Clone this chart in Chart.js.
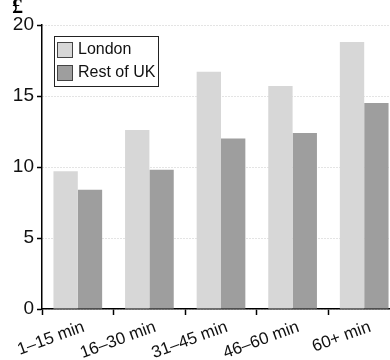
<!DOCTYPE html>
<html>
<head>
<meta charset="utf-8">
<script src="https://cdn.jsdelivr.net/npm/chart.js@4.4.1/dist/chart.umd.min.js"></script>
<style>
  html, body { margin: 0; padding: 0; background: #fff; overflow: hidden; }
  #wrap { width: 400px; height: 360px; }
</style>
</head>
<body>
<div id="wrap"><canvas id="c" width="400" height="360"></canvas></div>
<script>
// Average cost per journey time band, in pounds
const categories = ['1\u201315 min', '16\u201330 min', '31\u201345 min', '46\u201360 min', '60+ min'];
const londonValues = [9.7, 12.6, 16.7, 15.7, 18.8];
const restOfUkValues = [8.4, 9.8, 12.0, 12.4, 14.5];
const seriesNames = ['London', 'Rest of UK'];
const yTicks = [0, 5, 10, 15, 20];
const unitLabel = '\u00a3';

const FONT = '"Liberation Sans", Arial, sans-serif';
const lightFill = '#d7d7d7';
const darkFill = '#9e9e9e';

// Boxed legend drawn inside the plot area, top-left
const innerLegend = {
  id: 'innerLegend',
  afterDraw(chart) {
    const ctx = chart.ctx;
    const x = 54, y = 36, w = 104, h = 50;
    ctx.save();
    ctx.fillStyle = '#fff';
    ctx.fillRect(x, y, w, h);
    ctx.strokeStyle = '#222';
    ctx.lineWidth = 1;
    ctx.strokeRect(x + 0.5, y + 0.5, w, h);
    chart.data.datasets.forEach((ds, i) => {
      const sy = y + 6 + i * 23;
      ctx.fillStyle = ds.backgroundColor;
      ctx.fillRect(57, sy, 15, 15);
      ctx.strokeStyle = '#444';
      ctx.strokeRect(57.5, sy + 0.5, 15, 15);
      ctx.fillStyle = '#111';
      ctx.font = '16px ' + FONT;
      ctx.textBaseline = 'middle';
      ctx.textAlign = 'left';
      ctx.fillText(ds.label, 78, sy + 8);
    });
    ctx.restore();
  }
};

// Currency unit above the value axis
const unitMark = {
  id: 'unitMark',
  afterDraw(chart) {
    const ctx = chart.ctx;
    ctx.save();
    ctx.fillStyle = '#000';
    ctx.font = 'bold 22px "Liberation Serif", serif';
    ctx.textAlign = 'left';
    ctx.textBaseline = 'alphabetic';
    ctx.fillText(unitLabel, 12, 13);
    ctx.restore();
  }
};

new Chart(document.getElementById('c'), {
  type: 'bar',
  data: {
    labels: categories,
    datasets: [
      { label: seriesNames[0], data: londonValues, backgroundColor: lightFill },
      { label: seriesNames[1], data: restOfUkValues, backgroundColor: darkFill }
    ]
  },
  options: {
    responsive: false,
    animation: false,
    events: [],
    layout: { padding: { top: 25, right: 0, left: 0, bottom: 0 } },
    datasets: { bar: { categoryPercentage: 0.68, barPercentage: 1.0 } },
    plugins: { legend: { display: false }, tooltip: { enabled: false } },
    scales: {
      x: {
        afterFit(s) { s.height = 51; },
        border: { display: true, color: '#000', width: 1.5 },
        grid: { display: true, drawOnChartArea: false, drawTicks: true, tickLength: 6, tickColor: '#000', tickWidth: 1.5, offset: true },
        ticks: { color: '#111', font: { family: FONT, size: 17 }, minRotation: 20, maxRotation: 20, padding: 2, labelOffset: 6, autoSkip: false }
      },
      y: {
        min: 0, max: 20,
        afterFit(s) { s.width = 42; },
        afterBuildTicks(s) { s.ticks = yTicks.map(v => ({ value: v })); },
        border: { display: true, color: '#000', width: 1.5, dash: [1, 2] },
        grid: { color: '#c8c8c8', lineWidth: 1, drawTicks: true, tickLength: 5, tickColor: '#000', tickWidth: 1.5, tickBorderDash: [] },
        ticks: { color: '#111', font: { family: FONT, size: 19 }, padding: 3 }
      }
    }
  },
  plugins: [innerLegend, unitMark]
});
</script>
</body>
</html>
